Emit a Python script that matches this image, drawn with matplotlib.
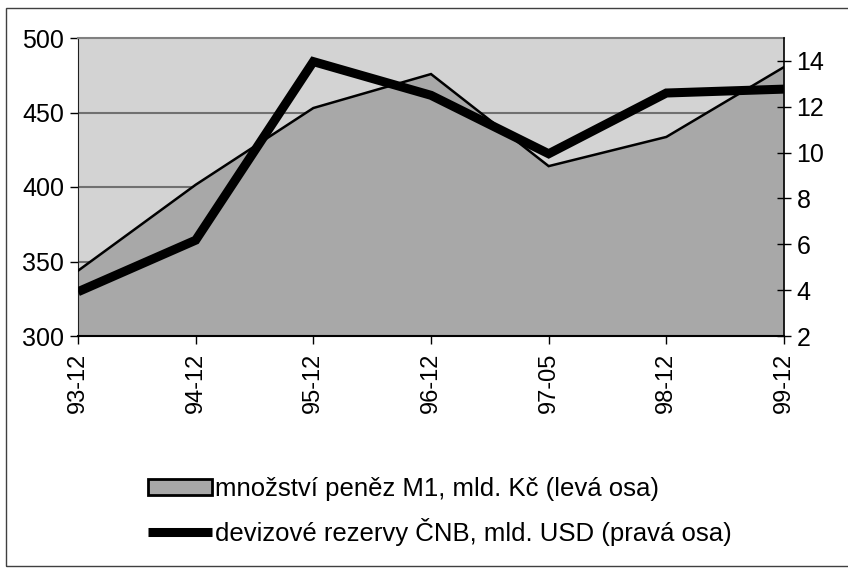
import matplotlib
matplotlib.use("Agg")
import matplotlib.pyplot as plt
from matplotlib.patches import Patch, Rectangle
from matplotlib.lines import Line2D

plt.rcParams['font.family'] = ['Liberation Sans', 'DejaVu Sans']

categories = ["93-12", "94-12", "95-12", "96-12", "97-05", "98-12", "99-12"]
m1_values = [343.8, 401.5, 453.0, 475.8, 414.0, 433.6, 480.5]
reserves_values = [3.93, 6.18, 13.97, 12.5, 9.95, 12.6, 12.77]
m1_label = "množství peněz M1, mld. Kč (levá osa)"
res_label = "devizové rezervy ČNB, mld. USD (pravá osa)"
left_ticks = [300, 350, 400, 450, 500]
right_ticks = [2, 4, 6, 8, 10, 12, 14]

W, H = 848, 568
fig = plt.figure(figsize=(W / 100, H / 100), dpi=100)
fig.patch.set_facecolor("white")

# outer chart frame
fig.add_artist(Rectangle((6 / W, 0.004), 1.2, (H - 8 - 2) / H, transform=fig.transFigure,
                         fill=False, edgecolor="#404040", linewidth=1.0))

ax = fig.add_axes([78 / W, 1 - 336 / H, (784 - 78) / W, (336 - 38) / H])
ax.set_facecolor("#d3d3d3")
x = list(range(len(categories)))

for t in left_ticks[1:-1]:
    ax.axhline(t, color="#707070", linewidth=1.5, zorder=1)

ax.fill_between(x, 300, m1_values, color="#a8a8a8", zorder=2, linewidth=0)
ax.plot(x, m1_values, color="black", linewidth=1.8, zorder=3, solid_joinstyle="miter")

ax.set_xlim(0, len(categories) - 1)
ax.set_ylim(300, 500)
ax.set_yticks(left_ticks)
ax.set_xticks(x)
ax.set_xticklabels(categories, rotation=90, fontsize=17)
ax.tick_params(axis="y", labelsize=18, direction="out", length=6, width=1, pad=4)
ax.tick_params(axis="x", direction="out", length=6, width=1, pad=6)

ax.spines["top"].set_color("#808080")
ax.spines["top"].set_linewidth(1.5)
ax.spines["left"].set_color("#202020")
ax.spines["bottom"].set_color("black")
ax.spines["bottom"].set_linewidth(1.5)
ax.spines["right"].set_visible(False)

ax2 = ax.twinx()
ax2.plot(x, reserves_values, color="black", linewidth=6.5, solid_joinstyle="miter",
         solid_capstyle="butt", zorder=4)
ax2.set_ylim(2, 15)
ax2.set_yticks(right_ticks)
ax2.tick_params(axis="y", labelsize=18, direction="inout", length=10, width=1, pad=4)
ax2.spines["right"].set_color("black")
ax2.spines["right"].set_linewidth(1.2)
for s in ["top", "left", "bottom"]:
    ax2.spines[s].set_visible(False)

handles = [
    Patch(facecolor="#a8a8a8", edgecolor="black", linewidth=2.0),
    Line2D([0], [0], color="black", linewidth=6.5, solid_capstyle="butt"),
]
fig.legend(handles, [m1_label, res_label], loc="upper left",
           bbox_to_anchor=(130 / W, 1 - 459 / H), frameon=False, fontsize=18.5,
           handlelength=2.5, handleheight=0.6, handletextpad=0.12, labelspacing=0.65,
           borderpad=0.2)

fig.savefig("out.png", dpi=100)
